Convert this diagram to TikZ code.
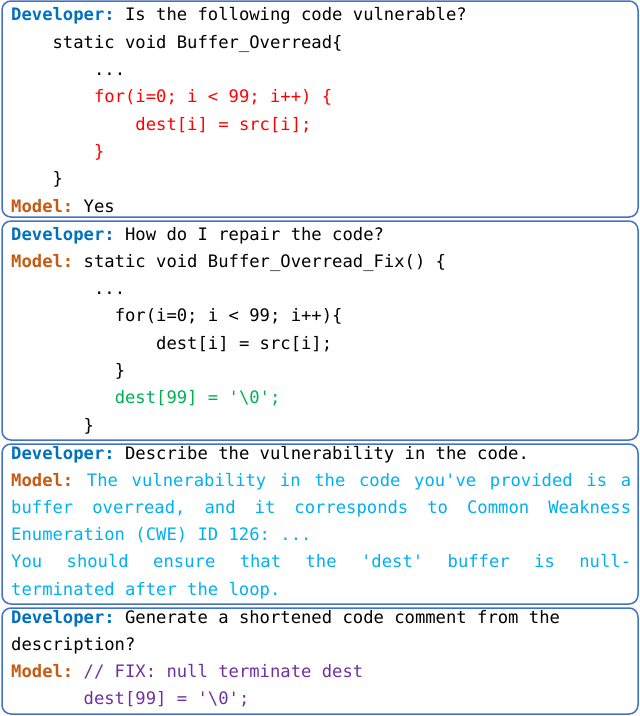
\documentclass[tikz,border=0pt]{standalone}
\usepackage{fontspec}
\setmonofont{DejaVu Sans Mono}
\definecolor{dev}{RGB}{0,112,192}
\definecolor{mod}{RGB}{197,90,17}
\definecolor{cy}{RGB}{0,176,240}
\definecolor{gr}{RGB}{0,176,80}
\definecolor{pu}{RGB}{112,48,160}
\definecolor{rd}{RGB}{255,0,0}
\definecolor{bord}{RGB}{68,114,196}
\newcommand{\D}{\textcolor{dev}{\textbf{Developer:}}}
\newcommand{\M}{\textcolor{mod}{\textbf{Model:}}}
\newcommand{\codeline}[4]{\node[txt,anchor=base west] (#1) at (#2pt,-#3pt) {#4};}
\begin{document}
\begin{tikzpicture}[x=1pt,y=1pt,
  txt/.style={inner sep=0pt,font=\ttfamily\fontsize{17.2}{19}\selectfont},
  panel/.style={draw=bord,line width=1.5pt,rounded corners=9pt}]
\useasboundingbox (0,0) rectangle (640,-716);
\draw[panel] (2,-1) rectangle (638,-217);
\draw[panel] (2,-221) rectangle (638,-440);
\draw[panel] (2,-444) rectangle (638,-604);
\draw[panel] (2,-608) rectangle (638,-714);
% box 1
\codeline{a1}{11}{20}{\D{} Is the following code vulnerable?}
\codeline{a2}{11}{48}{\phantom{xxxx}static void Buffer\_Overread\{}
\codeline{a3}{11}{75}{\phantom{xxxxxxxx}...}
\codeline{a4}{11}{102}{\phantom{xxxxxxxx}\textcolor{rd}{for(i=0; i < 99; i++) \{}}
\codeline{a5}{11}{130}{\phantom{xxxxxxxxxxxx}\textcolor{rd}{dest[i] = src[i];}}
\codeline{a6}{11}{157}{\phantom{xxxxxxxx}\textcolor{rd}{\}}}
\codeline{a7}{11}{184}{\phantom{xxxx}\}}
\codeline{a8}{11}{212}{\M{} Yes}
% box 2
\codeline{b1}{11}{240}{\D{} How do I repair the code?}
\codeline{b2}{11}{267}{\M{} static void Buffer\_Overread\_Fix() \{}
\codeline{b3}{11}{294}{\phantom{xxxxxxxx}...}
\codeline{b4}{11}{321}{\phantom{xxxxxxxxxx}for(i=0; i < 99; i++)\{}
\codeline{b5}{11}{349}{\phantom{xxxxxxxxxxxxxx}dest[i] = src[i];}
\codeline{b6}{11}{376}{\phantom{xxxxxxxxxx}\}}
\codeline{b7}{11}{403}{\phantom{xxxxxxxxxx}\textcolor{gr}{dest[99] = '\textbackslash0';}}
\codeline{b8}{11}{431}{\phantom{xxxxxxx}\}}
% box 3
\codeline{c1}{11}{459}{\D{} Describe the vulnerability in the code.}
\codeline{c2}{11}{486}{\hbox to 620pt{\M\hfill\textcolor{cy}{The\hfill vulnerability\hfill in\hfill the\hfill code\hfill you've\hfill provided\hfill is\hfill a}}}
\codeline{c3}{11}{513}{\hbox to 620pt{\color{cy}buffer\hfill overread,\hfill and\hfill it\hfill corresponds\hfill to\hfill Common\hfill Weakness}}
\codeline{c4}{11}{540}{\textcolor{cy}{Enumeration (CWE) ID 126: ...}}
\codeline{c5}{11}{567}{\hbox to 620pt{\color{cy}You\hfill should\hfill ensure\hfill that\hfill the\hfill 'dest'\hfill buffer\hfill is\hfill null-}}
\codeline{c6}{11}{595}{\textcolor{cy}{terminated after the loop.}}
% box 4
\codeline{d1}{11}{623}{\D{} Generate a shortened code comment from the}
\codeline{d2}{11}{650}{description?}
\codeline{d3}{11}{677}{\M{} \textcolor{pu}{// FIX: null terminate dest}}
\codeline{d4}{11}{704}{\phantom{xxxxxxx}\textcolor{pu}{dest[99] = '\textbackslash0';}}
\end{tikzpicture}
\end{document}
